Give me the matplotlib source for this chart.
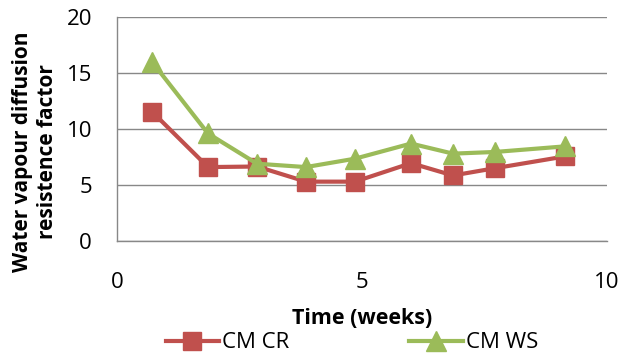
import matplotlib
matplotlib.use("Agg")
import matplotlib.pyplot as plt

weeks = [0.714, 1.857, 2.857, 3.857, 4.857, 6.0, 6.857, 7.714, 9.143]
cm_cr = [11.55, 6.6, 6.65, 5.3, 5.3, 6.95, 5.85, 6.5, 7.55]
cm_ws = [16.0, 9.6, 6.9, 6.6, 7.35, 8.7, 7.8, 7.95, 8.45]
x_ticks = [0, 5, 10]
y_ticks = [0, 5, 10, 15, 20]

plt.rcParams['font.family'] = ['Open Sans', 'DejaVu Sans']

fig = plt.figure(figsize=(6.36, 3.56), dpi=100)
ax = fig.add_axes([117/636, 1 - 241/356, (607-117)/636, (241-17)/356])

red = '#C0504D'
green = '#9BBB59'
ax.plot(weeks, cm_cr, color=red, lw=3, marker='s', ms=13, label='CM CR', zorder=3)
ax.plot(weeks, cm_ws, color=green, lw=3, marker='^', ms=14, label='CM WS', zorder=4)

ax.set_xlim(0, 10)
ax.set_ylim(0, 20)
ax.set_xticks(x_ticks)
ax.set_yticks(y_ticks)
ax.tick_params(length=0, labelsize=16, pad=18)
ax.tick_params(axis='x', pad=22)
ax.grid(axis='y', color='#888888', lw=1)
ax.set_axisbelow(True)
for s in ['top', 'right']:
    ax.spines[s].set_visible(False)
for s in ['left', 'bottom']:
    ax.spines[s].set_color('#888888')
    ax.spines[s].set_linewidth(1)

fig.text(35/636, 1 - 152/356, 'Water vapour diffusion\nresistence factor', rotation=90,
         fontsize=15, fontweight='bold', ha='center', va='center', linespacing=1.3)
fig.text(362/636, 1 - 318/356, 'Time (weeks)', fontsize=15.5, fontweight='bold', ha='center', va='center')

leg = fig.legend(loc='center', bbox_to_anchor=(352/636, 1 - 343/356), ncol=2, frameon=False,
                 fontsize=16, handlelength=2.4, columnspacing=5.4, handletextpad=0.15, borderpad=0)

fig.savefig('out.png', dpi=100)
